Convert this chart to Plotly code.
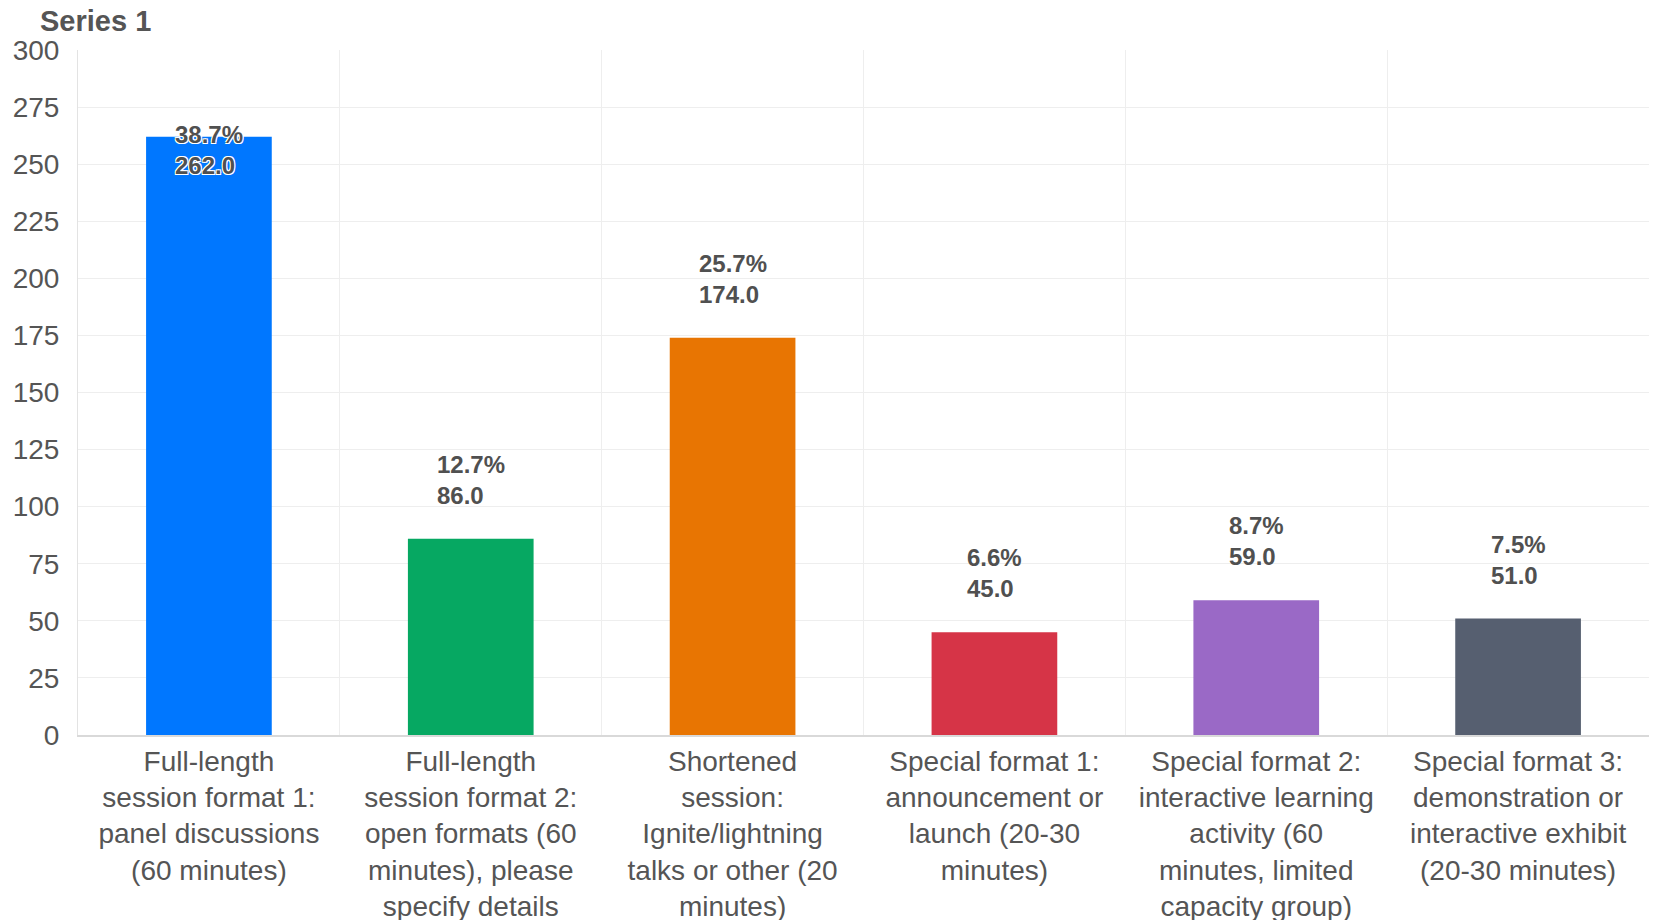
import plotly.graph_objects as go

categories = [
    "Full-length<br>session format 1:<br>panel discussions<br>(60 minutes)",
    "Full-length<br>session format 2:<br>open formats (60<br>minutes), please<br>specify details",
    "Shortened<br>session:<br>Ignite/lightning<br>talks or other (20<br>minutes)",
    "Special format 1:<br>announcement or<br>launch (20-30<br>minutes)",
    "Special format 2:<br>interactive learning<br>activity (60<br>minutes, limited<br>capacity group)",
    "Special format 3:<br>demonstration or<br>interactive exhibit<br>(20-30 minutes)",
]
values = [262.0, 86.0, 174.0, 45.0, 59.0, 51.0]
percents = ["38.7%", "12.7%", "25.7%", "6.6%", "8.7%", "7.5%"]
colors = ["#0077ff", "#06a862", "#e87502", "#d63447", "#9a69c6", "#565f70"]
y_ticks = [0, 25, 50, 75, 100, 125, 150, 175, 200, 225, 250, 275, 300]

FONT = "Liberation Sans, Arial, sans-serif"
TXT = "#555555"
x = list(range(len(values)))

fig = go.Figure()
fig.add_trace(go.Bar(
    x=x, y=values, width=0.48,
    marker=dict(color=colors, line=dict(width=0)),
    showlegend=False, hoverinfo="skip",
))

ymax = 300
for xi, v, p in zip(x, values, percents):
    inside = v / ymax > 0.8
    fig.add_annotation(
        x=xi, y=v, xref="x", yref="y",
        text=f"{p}<br>{v:.1f}",
        showarrow=False,
        yanchor="top" if inside else "bottom",
        yshift=18 if inside else 28,
        align="left",
        font=dict(family=FONT, size=24, color="#505050", weight=700,
                  shadow="1px 1px 0 white, -1px -1px 0 white, 1px -1px 0 white, -1px 1px 0 white" if inside else "none"),
    )

fig.update_layout(
    width=1653, height=920,
    margin=dict(l=78, r=4, t=50, b=185),
    paper_bgcolor="white", plot_bgcolor="white",
    title=dict(text="<b>Series 1</b>", x=40 / 1653, xanchor="left",
               y=1 - 11 / 920, yanchor="top",
               font=dict(family=FONT, size=29, color=TXT)),
    font=dict(family=FONT, color=TXT),
    bargap=0.52,
)
fig.update_xaxes(
    range=[-0.5, 5.5], tickvals=x, ticktext=categories, automargin=False,
    showgrid=False, zeroline=False,
    showline=True, linecolor="#d9d9d9", linewidth=2,
    ticks="outside", ticklen=0, tickcolor="rgba(0,0,0,0)",
    tickfont=dict(family=FONT, size=28, color=TXT),
    minor=dict(tick0=0.5, dtick=1, showgrid=True, gridcolor="#eeeeee", gridwidth=1, ticks=""),
)
fig.update_yaxes(
    range=[0, 300], tickvals=y_ticks, automargin=False,
    showgrid=True, gridcolor="#eeeeee", gridwidth=1, zeroline=False,
    showline=True, linecolor="#e3e3e3", linewidth=1,
    ticks="outside", ticklen=12, tickcolor="rgba(0,0,0,0)",
    tickfont=dict(family=FONT, size=28, color=TXT),
)

fig.write_html("out.html", config={"displayModeBar": False},
               post_script="document.body.style.margin='0';document.body.style.overflow='hidden';")
